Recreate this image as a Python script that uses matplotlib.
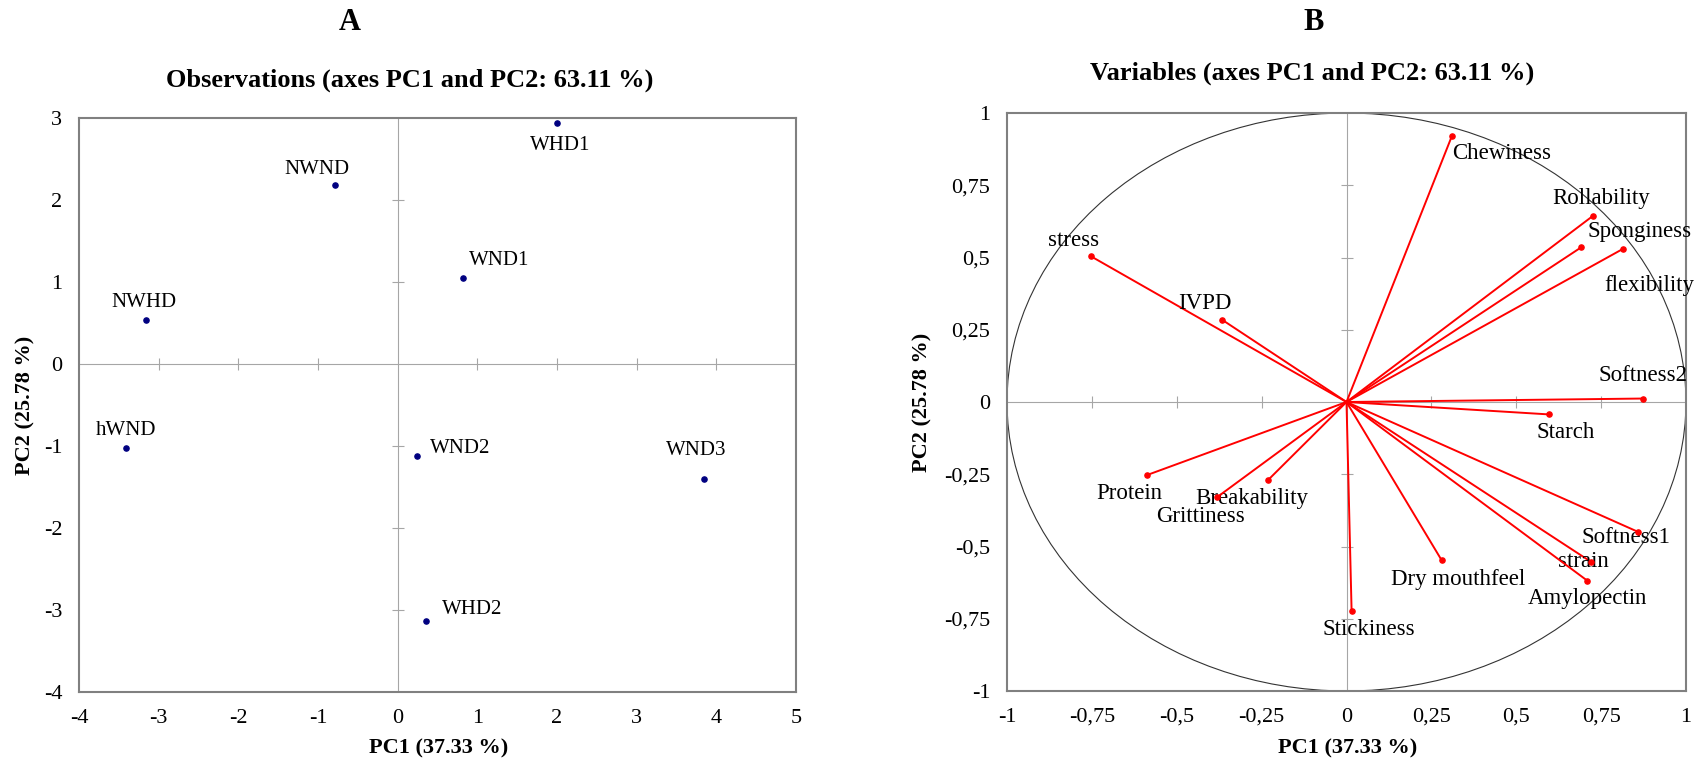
import numpy as np
import matplotlib
matplotlib.use("Agg")
import matplotlib.pyplot as plt
from matplotlib.patches import Circle
from matplotlib.ticker import FuncFormatter

plt.rcParams.update({
    "font.family": ["Liberation Serif", "DejaVu Serif"],
    "axes.unicode_minus": False,
})

# 观测值得分 (PC1, PC2)
obs_names = ["WHD1", "NWND", "WND1", "NWHD", "hWND", "WND2", "WND3", "WHD2"]
obs_pc1 = [2.00, -0.79, 0.82, -3.16, -3.41, 0.245, 3.84, 0.354]
obs_pc2 = [2.94, 2.18, 1.05, 0.54, -1.02, -1.12, -1.40, -3.13]

# 变量载荷 (PC1, PC2)
var_names = ["Chewiness", "Rollability", "Sponginess", "flexibility", "stress", "IVPD",
             "Softness2", "Starch", "Protein", "Breakability", "Grittiness", "Softness1",
             "strain", "Amylopectin", "Dry mouthfeel", "Stickiness"]
var_pc1 = [0.311, 0.727, 0.691, 0.813, -0.754, -0.367, 0.874, 0.597, -0.588, -0.231,
           -0.382, 0.860, 0.720, 0.709, 0.280, 0.015]
var_pc2 = [0.922, 0.645, 0.535, 0.529, 0.505, 0.285, 0.012, -0.043, -0.253, -0.270,
           -0.330, -0.450, -0.553, -0.618, -0.547, -0.722]

# 标签偏移 (像素)
obs_offsets = [(3, -23), (-18, 16), (36, 17), (-2, 17), (0, 17), (43, 7), (-7, 28), (46, 11)]
var_offsets = [(50, -18), (8, 17), (58, 16), (27, -36), (-17, 16), (-17, 16), (0, 23),
               (17, -18), (-18, -18), (-16, -18), (-16, -19), (-13, -5), (-8, 0),
               (0, -18), (17, -19), (17, -19)]

W, H = 1699, 762
fig = plt.figure(figsize=(W / 100, H / 100), dpi=100)

def px_box(l, r, t, b):
    return [l / W, 1 - b / H, (r - l) / W, (b - t) / H]

axA = fig.add_axes(px_box(79, 796, 118, 692))
axB = fig.add_axes(px_box(1007, 1686, 113, 691))

def style_axes(ax, xticks, yticks, xlim, ylim):
    ax.set_xlim(*xlim)
    ax.set_ylim(*ylim)
    ax.set_xticks(xticks)
    ax.set_yticks(yticks)
    for s in ax.spines.values():
        s.set_color("#808080")
        s.set_linewidth(1.5)
    ax.tick_params(length=0, labelsize=16, pad=12)
    ax.axhline(0, color="#a6a6a6", lw=0.8, zorder=1)
    ax.axvline(0, color="#a6a6a6", lw=0.8, zorder=1)
    # 坐标轴在零线上的十字刻度
    xt = [v for v in xticks if xlim[0] < v < xlim[1] and v != 0]
    yt = [v for v in yticks if ylim[0] < v < ylim[1] and v != 0]
    ax.plot(xt, np.zeros(len(xt)), ls="none", marker="|", ms=9, mew=0.8, color="#a6a6a6", zorder=1)
    ax.plot(np.zeros(len(yt)), yt, ls="none", marker="_", ms=9, mew=0.8, color="#a6a6a6", zorder=1)

def axis_labels(ax, ylab_x):
    ax.set_xlabel("PC1 (37.33 %)", fontsize=16, fontweight="bold")
    ax.set_ylabel("PC2 (25.78 %)", fontsize=16, fontweight="bold")
    ax.xaxis.label.set_verticalalignment("center")
    ax.yaxis.label.set_verticalalignment("center")
    ax.xaxis.set_label_coords(0.502, -0.099)
    ax.yaxis.set_label_coords(ylab_x, 0.5)

# ---- A: 观测值 ----
style_axes(axA, np.arange(-4, 6), np.arange(-4, 4), (-4, 5), (-4, 3))
axA.scatter(obs_pc1, obs_pc2, s=14, color="#000080", zorder=3)
for name, x, y, off in zip(obs_names, obs_pc1, obs_pc2, obs_offsets):
    axA.annotate(name, (x, y), xytext=off, textcoords="offset pixels",
                 ha="center", va="center", fontsize=15)
axis_labels(axA, -0.075)

# ---- B: 变量 ----
ticksB = np.arange(-1, 1.01, 0.25)
style_axes(axB, ticksB, ticksB, (-1, 1), (-1, 1))
fmt = FuncFormatter(lambda v, p: f"{v:g}".replace(".", ","))
axB.xaxis.set_major_formatter(fmt)
axB.yaxis.set_major_formatter(fmt)
axB.add_patch(Circle((0, 0), 1, fill=False, color="#333333", lw=0.8, zorder=2))
for name, x, y, off in zip(var_names, var_pc1, var_pc2, var_offsets):
    axB.plot([0, x], [0, y], color="red", lw=1.4, zorder=3)
    axB.annotate(name, (x, y), xytext=off, textcoords="offset pixels",
                 ha="center", va="center", fontsize=16.5)
axB.scatter(var_pc1, var_pc2, s=14, color="red", zorder=4)
axis_labels(axB, -0.124)

# 面板标题
fig.text(350 / W, 1 - 22 / H, "A", ha="center", va="center", fontsize=22, fontweight="bold")
fig.text(410 / W, 1 - 80 / H, "Observations (axes PC1 and PC2: 63.11 %)",
         ha="center", va="center", fontsize=19, fontweight="bold")
fig.text(1314 / W, 1 - 22 / H, "B", ha="center", va="center", fontsize=22, fontweight="bold")
fig.text(1312 / W, 1 - 73 / H, "Variables (axes PC1 and PC2: 63.11 %)",
         ha="center", va="center", fontsize=19, fontweight="bold")

fig.savefig("out.png", dpi=100)
